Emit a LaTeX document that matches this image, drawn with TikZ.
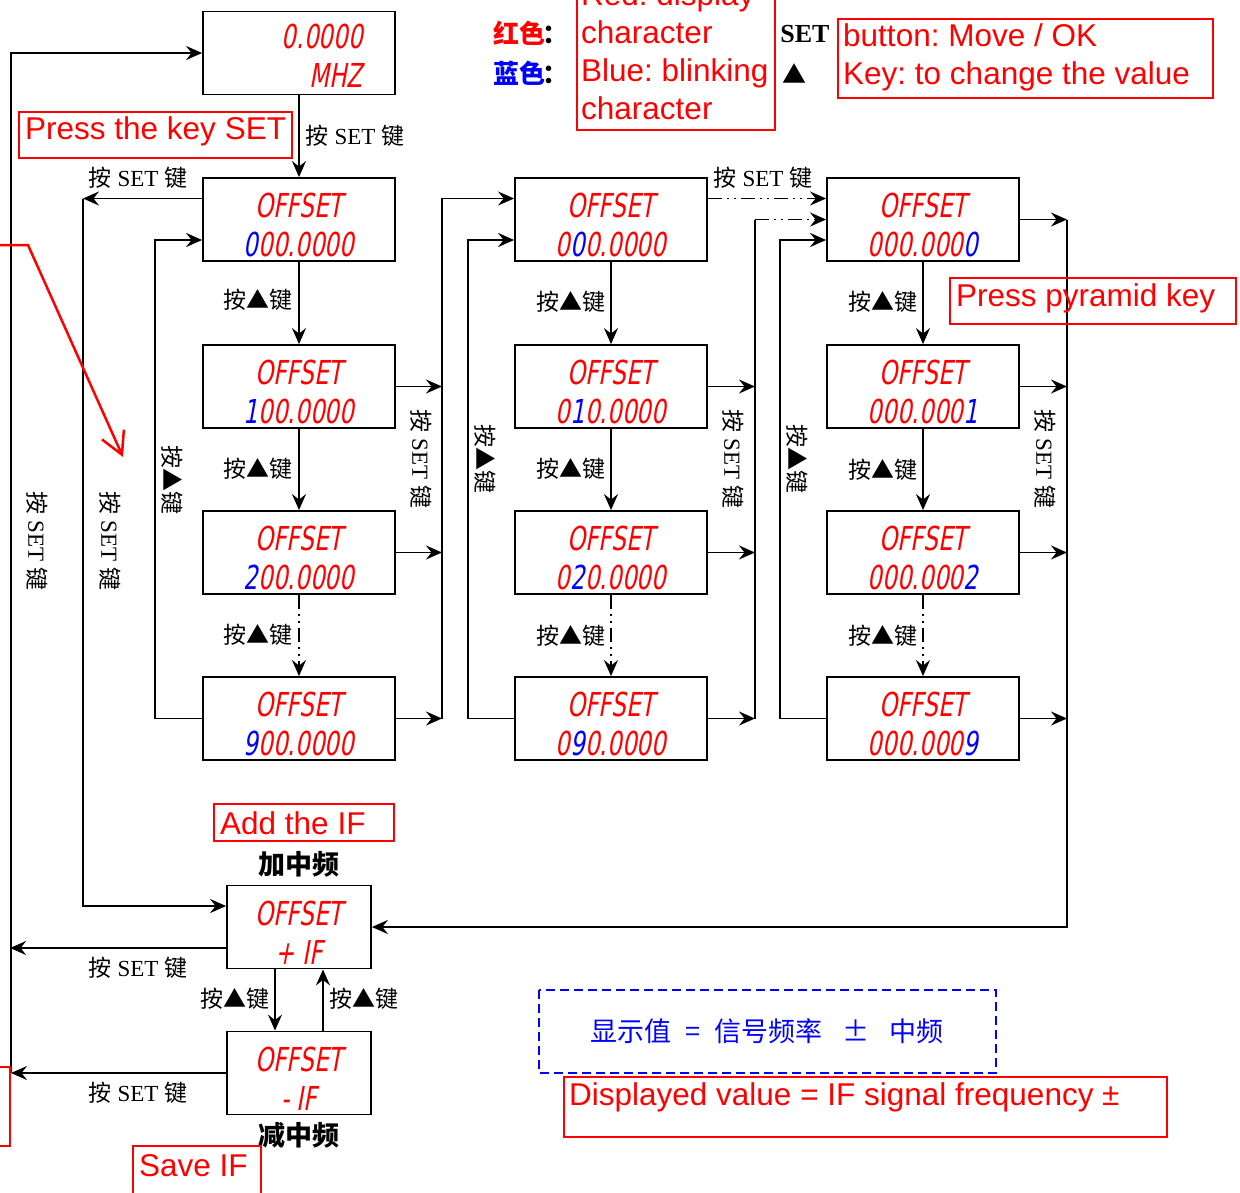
\documentclass[tikz,border=0pt]{standalone}
\usepackage{fontspec}
\setmainfont{Liberation Serif}
\newfontfamily\cjk{Noto Sans CJK SC}
\newfontfamily\ann{Liberation Sans}
\newfontfamily\seg[FakeStretch=0.7,FakeSlant=0.18]{DejaVu Sans}
\usetikzlibrary{arrows.meta}
\definecolor{segred}{RGB}{255,0,0}
\definecolor{segblue}{RGB}{0,0,255}
\newcommand\lblset{{\cjk 按} SET {\cjk 键}}
\newcommand\lblup{{\cjk 按▲键}}
\newcommand\BL[1]{{\color{segblue}#1}}
\newcommand\fl{\rule{0pt}{36pt}}
\frenchspacing
\begin{document}
\begin{tikzpicture}[x=1pt,y=-1pt,
  disp/.style={draw=black,line width=1.8pt,minimum width=192pt,minimum height=83pt,inner sep=0pt,align=center,text=segred,font=\seg\fontsize{33}{39}\selectfont},
  ifbox/.style={disp,minimum width=144pt},
  conn/.style={line width=1.8pt,-{Stealth[length=16pt,width=14pt,inset=5.5pt]}},
  wire/.style={line width=1.8pt},
  dd/.style={dash pattern=on 14pt off 5pt on 2pt off 5pt on 2pt off 5pt},
  lbl/.style={font=\fontsize{23}{23}\selectfont,inner sep=0pt},
  vlbl/.style={lbl,rotate=-90},
  redbox/.style={draw=red,line width=2.6pt},
  anntext/.style={font=\ann\fontsize{31.5}{38}\selectfont,text=red,inner sep=0pt,align=left}
]
\useasboundingbox (0,0) rectangle (1240,1192);
\clip (0,0) rectangle (1240,1192);

% ---- display boxes
\node[disp] (M) at (299,53) {};
\node[anchor=east,align=right,text=segred,inner sep=0pt,font=\seg\fontsize{33}{39}\selectfont] (Mt) at (363,50) {\fl 0.0000\\MHZ};

\node[disp] (A1) at (299,219.5) {\fl OFFSET\\\BL{0}00.0000};
\node[disp] (A2) at (299,386.5) {\fl OFFSET\\\BL{1}00.0000};
\node[disp] (A3) at (299,552.5) {\fl OFFSET\\\BL{2}00.0000};
\node[disp] (A4) at (299,718.5) {\fl OFFSET\\\BL{9}00.0000};

\node[disp] (B1) at (611,219.5) {\fl OFFSET\\0\BL{0}0.0000};
\node[disp] (B2) at (611,386.5) {\fl OFFSET\\0\BL{1}0.0000};
\node[disp] (B3) at (611,552.5) {\fl OFFSET\\0\BL{2}0.0000};
\node[disp] (B4) at (611,718.5) {\fl OFFSET\\0\BL{9}0.0000};

\node[disp] (C1) at (923,219.5) {\fl OFFSET\\000.000\BL{0}};
\node[disp] (C2) at (923,386.5) {\fl OFFSET\\000.000\BL{1}};
\node[disp] (C3) at (923,552.5) {\fl OFFSET\\000.000\BL{2}};
\node[disp] (C4) at (923,718.5) {\fl OFFSET\\000.000\BL{9}};

\node[ifbox] (PIF) at (299,927) {\fl OFFSET\\+ IF};
\node[ifbox] (MIF) at (299,1073) {\fl OFFSET\\- IF};

% ---- vertical chains
\draw[conn] (M.south) -- (A1.north);
\draw[conn] (A1.south) -- (A2.north);
\draw[conn] (A2.south) -- (A3.north);
\draw[conn,dd] (A3.south) -- (A4.north);
\draw[conn] (B1.south) -- (B2.north);
\draw[conn] (B2.south) -- (B3.north);
\draw[conn,dd] (B3.south) -- (B4.north);
\draw[conn] (C1.south) -- (C2.north);
\draw[conn] (C2.south) -- (C3.north);
\draw[conn,dd] (C3.south) -- (C4.north);

% ---- outer left loop
\coordinate (o1) at (11,53);
\coordinate (o2) at (11,1073);
\draw[conn] (o2) -- (o1) -- (M.west);
\draw[conn] ([yshift=-21]PIF.west) -- ++(-216,0);
\draw[conn] (MIF.west) -- (o2);

% ---- second loop x=83
\coordinate (s1) at (83,198.5);
\coordinate (s2) at (83,906);
\draw[conn] ([yshift=21]A1.west) -- (s1);
\draw[conn] (s1) -- (s2) -- ([yshift=21]PIF.west);

% ---- column 1 up-loop x=155
\draw[conn] (A4.west) -- (155,718.5) -- (155,240) -- ([yshift=-20.5]A1.west);

% ---- column 1 right bus x=442
\draw[conn] (A2.east) -- (442,386.5);
\draw[conn] (A3.east) -- (442,552.5);
\draw[conn] (A4.east) -- (442,718.5);
\draw[conn] (442,718.5) -- (442,198.5) -- ([yshift=21]B1.west);

% ---- column 2 up-loop x=468
\draw[conn] (B4.west) -- (468,718.5) -- (468,240) -- ([yshift=-20.5]B1.west);

% ---- column 2 right bus x=755
\draw[conn] (B2.east) -- (755,386.5);
\draw[conn] (B3.east) -- (755,552.5);
\draw[conn] (B4.east) -- (755,718.5);
\draw[wire] (755,718.5) -- (755,219.5);
\draw[conn,dd] (755,219.5) -- (C1.west);
\draw[conn,dd] ([yshift=21]B1.east) -- ([yshift=21]C1.west);

% ---- column 3 up-loop x=780
\draw[conn] (C4.west) -- (780,718.5) -- (780,240) -- ([yshift=-20.5]C1.west);

% ---- column 3 right bus x=1067
\draw[conn] (C1.east) -- (1067,219.5);
\draw[conn] (C2.east) -- (1067,386.5);
\draw[conn] (C3.east) -- (1067,552.5);
\draw[conn] (C4.east) -- (1067,718.5);
\draw[conn] (1067,219.5) -- (1067,927) -- (PIF.east);

% ---- IF toggles
\draw[conn] ([xshift=-24]PIF.south) -- ([xshift=-24]MIF.north);
\draw[conn] ([xshift=24]MIF.north) -- ([xshift=24]PIF.south);

% ---- black labels
\node[lbl] (l1) at (355,136) {\lblset};
\node[lbl] (l2) at (138,178) {\lblset};
\node[lbl] (l3) at (763,178) {\lblset};
\node[lbl] (u11) at (258,300) {\lblup};
\node[lbl] (u12) at (258,469) {\lblup};
\node[lbl] (u13) at (258,635) {\lblup};
\node[lbl] (u21) at (571,302) {\lblup};
\node[lbl] (u22) at (571,469) {\lblup};
\node[lbl] (u23) at (571,636) {\lblup};
\node[lbl] (u31) at (883,302) {\lblup};
\node[lbl] (u32) at (883,470) {\lblup};
\node[lbl] (u33) at (883,636) {\lblup};
\node[vlbl] (v1) at (37,541) {\lblset};
\node[vlbl] (v2) at (110,541) {\lblset};
\node[vlbl] (v3) at (172,480) {\lblup};
\node[vlbl] (v4) at (421,459) {\lblset};
\node[vlbl] (v5) at (485,459) {\lblup};
\node[vlbl] (v6) at (733,459) {\lblset};
\node[vlbl] (v7) at (797,459) {\lblup};
\node[vlbl] (v8) at (1045,459) {\lblset};
\node[lbl] (l4) at (138,968) {\lblset};
\node[lbl] (l5) at (138,1093) {\lblset};
\node[lbl] (u41) at (235,999) {\lblup};
\node[lbl] (u42) at (364,999) {\lblup};

\node[font=\cjk\bfseries\fontsize{27}{27}\selectfont,inner sep=0pt] (jz) at (299,864) {加中频};
\node[font=\cjk\bfseries\fontsize{27}{27}\selectfont,inner sep=0pt] (jn) at (299,1135) {减中频};

% ---- legend
\node[font=\cjk\bfseries\fontsize{26}{26}\selectfont,inner sep=0pt,anchor=west] (lg1) at (493,33) {\textcolor{red}{红色}\kern-3pt：};
\node[font=\cjk\bfseries\fontsize{26}{26}\selectfont,inner sep=0pt,anchor=west] (lg2) at (493,73) {\textcolor{segblue}{蓝色}\kern-3pt：};
\node[font=\bfseries\fontsize{26}{26}\selectfont,inner sep=0pt] (lg3) at (805,34) {SET};
\node[font=\cjk\fontsize{24}{24}\selectfont,inner sep=0pt] (lg4) at (794,74) {▲};

% ---- red annotation boxes
\draw[redbox] (19,112) rectangle (292,158);
\node[anntext,anchor=west] (t1) at (25,131) {Press the key SET};
\draw[redbox] (577,-60) rectangle (775,130);
\node[anntext,anchor=west] (t2) at (581,51) {Red: display\\character\\Blue: blinking\\character};
\draw[redbox] (838,19) rectangle (1213,98);
\node[anntext,anchor=west] (t3) at (843,57) {button: Move / OK\\Key: to change the value};
\draw[redbox] (950,278) rectangle (1236,324);
\node[anntext,anchor=west] (t4) at (956,298) {Press pyramid key};
\draw[redbox] (214,804) rectangle (394,841);
\node[anntext,anchor=west] (t5) at (220,823) {Add the IF};
\draw[redbox] (133,1146) rectangle (261,1210);
\node[anntext,anchor=west] (t6) at (139,1166) {Save IF};
\draw[redbox] (564,1077) rectangle (1167,1137);
\node[anntext,anchor=west] (t7) at (569,1097) {Displayed value = IF signal frequency ±};
\draw[redbox] (-20,1067) rectangle (10,1146);
\draw[red,line width=2.5pt,-{Straight Barb[length=22pt,width=24pt]}] (-5,245) -- (28,245) -- (123,457);

% ---- blue formula
\draw[segblue,line width=1.8pt,dash pattern=on 9pt off 5pt] (539,990) rectangle (996,1073);
\node[font=\cjk\fontsize{27}{27}\selectfont,text=segblue,inner sep=0pt] (fm) at (767,1031) {显示值\hspace{14pt}=\hspace{14pt}信号频率\hspace{20pt}±\hspace{20pt}中频};
\end{tikzpicture}
\end{document}
